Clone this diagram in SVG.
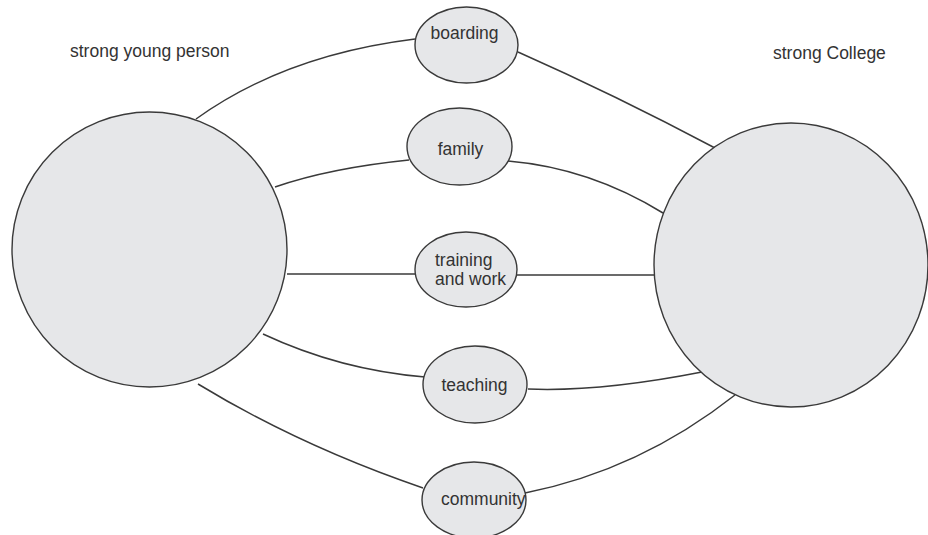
<svg xmlns="http://www.w3.org/2000/svg" width="928" height="535" viewBox="0 0 928 535">
<style>
.node{fill:#e6e7e9;stroke:#3a3a3a;stroke-width:1.4}
.conn{fill:none;stroke:#3a3a3a;stroke-width:1.5}
text{font-family:"Liberation Sans",Arial,sans-serif;font-size:17.5px;fill:#333}
.mid{text-anchor:middle}
</style>
<rect width="928" height="535" fill="#fff"/>
<g id="connectors">
<path class="conn" d="M196,119 Q285,55 415,39"/>
<path class="conn" d="M518,52 Q615,95 715,148"/>
<path class="conn" d="M275,187 Q330,168 409,160"/>
<path class="conn" d="M508,161 Q590,168 663,213"/>
<path class="conn" d="M287,274 L415,274"/>
<path class="conn" d="M517,275 L654,275"/>
<path class="conn" d="M263,334 Q340,370 425,377"/>
<path class="conn" d="M528,389 Q600,392 702,372"/>
<path class="conn" d="M198,384 Q300,446 423,488"/>
<path class="conn" d="M525,493 Q640,470 735,395"/>
</g>
<g id="young-person">
<circle class="node" cx="149.5" cy="249.5" r="137.5"/>
<text x="70" y="57">strong young person</text>
</g>
<g id="college">
<ellipse class="node" cx="791" cy="265" rx="137" ry="142"/>
<text x="773" y="59">strong College</text>
</g>
<g id="boarding">
<ellipse class="node" cx="466.5" cy="45" rx="51.5" ry="38"/>
<text class="mid" x="464.5" y="39">boarding</text>
</g>
<g id="family">
<ellipse class="node" cx="459.5" cy="146.5" rx="52.5" ry="38.5"/>
<text class="mid" x="460.5" y="155">family</text>
</g>
<g id="training">
<ellipse class="node" cx="466" cy="269.5" rx="51" ry="37.5"/>
<text x="435" y="265.5">training</text>
<text x="435" y="285">and work</text>
</g>
<g id="teaching">
<ellipse class="node" cx="475" cy="384.5" rx="52" ry="38.5"/>
<text class="mid" x="474.5" y="390.5">teaching</text>
</g>
<g id="community">
<ellipse class="node" cx="474" cy="500" rx="52" ry="38"/>
<text x="441" y="505">community</text>
</g>
</svg>
